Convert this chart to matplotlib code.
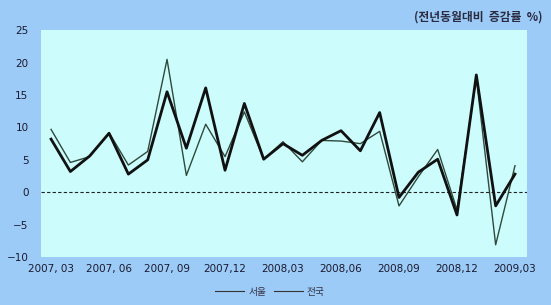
import matplotlib
matplotlib.use("Agg")
import matplotlib.pyplot as plt

plt.rcParams["font.family"] = ["Noto Sans CJK KR", "DejaVu Sans"]

# monthly, 2007.03 - 2009.03 (전년동월대비 증감률 %)
months = list(range(25))
seoul = [8.2, 3.2, 5.6, 9.1, 2.8, 5.0, 15.5, 6.8, 16.1, 3.4, 13.7, 5.1, 7.5,
         5.7, 8.0, 9.5, 6.4, 12.3, -0.8, 3.1, 5.1, -3.5, 18.1, -2.1, 2.8]
nation = [9.7, 4.6, 5.5, 9.2, 4.2, 6.3, 20.5, 2.6, 10.5, 5.5, 12.4, 5.1, 7.8,
          4.7, 8.0, 7.9, 7.5, 9.4, -2.1, 2.4, 6.6, -2.7, 17.6, -8.1, 4.1]
tick_pos = [0, 3, 6, 9, 12, 15, 18, 21, 24]
tick_labels = ["2007, 03", "2007, 06", "2007, 09", "2007,12", "2008,03",
               "2008,06", "2008,09", "2008,12", "2009,03"]

fig = plt.figure(figsize=(5.51, 3.05), dpi=100, facecolor="#9ccbf7")
ax = fig.add_axes([0.0744, 0.157, 0.882, 0.744])
ax.set_facecolor("#ccfcfc")

ax.plot(months, seoul, color="#111111", lw=2.0, label="서울", zorder=3)
ax.plot(months, nation, color="#2f4a3c", lw=1.0, label="전국", zorder=2)
ax.axhline(0, color="#222222", lw=0.8, ls=(0, (3, 2)), zorder=1)

ax.set_xlim(-0.52, 24.62)
ax.set_ylim(-10, 25)
ax.set_yticks(range(-10, 26, 5))
ax.set_xticks(tick_pos)
ax.set_xticklabels(tick_labels)
ax.tick_params(length=0, labelsize=7.5, colors="#1a1a2e")
ax.tick_params(axis="y", pad=9)
ax.tick_params(axis="x", pad=5)
for lab in ax.get_xticklabels() + ax.get_yticklabels():
    lab.set_family("DejaVu Sans")
for s in ax.spines.values():
    s.set_visible(False)

fig.text(0.985, 0.945, "(전년동월대비  증감률  %)", ha="right", va="center",
         fontsize=8.5, fontweight="bold", color="#2a2a40")

leg_lines = [
    plt.Line2D([], [], color="#333333", lw=0.8),
    plt.Line2D([], [], color="#333333", lw=0.8),
]
fig.legend(leg_lines, ["서울", "전국"], loc="center", bbox_to_anchor=(0.49, 0.043),
           ncol=2, frameon=False, fontsize=7, handlelength=3.0,
           columnspacing=0.8, handletextpad=0.4, labelcolor="#333344")

fig.savefig("out.png", dpi=100, facecolor=fig.get_facecolor())
